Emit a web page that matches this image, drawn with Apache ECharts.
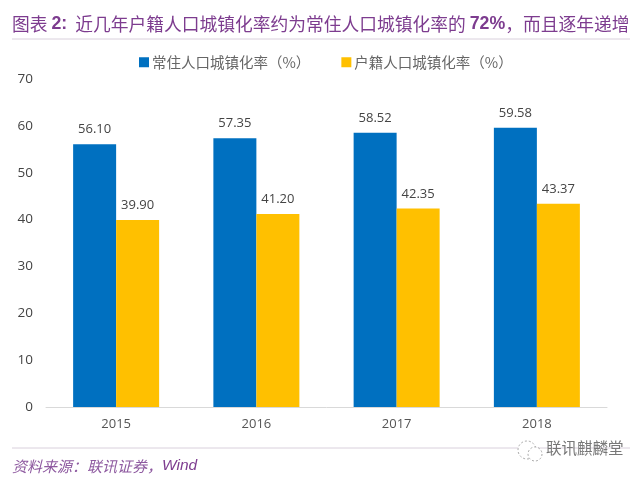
<!DOCTYPE html>
<html>
<head>
<meta charset="utf-8">
<style>
html,body{margin:0;padding:0;background:#fff;}
#chart{width:641px;height:477px;}
</style>
<script src="https://cdn.jsdelivr.net/npm/echarts@6/dist/echarts.min.js"></script>
</head>
<body>
<div id="chart"></div>
<script>
var years = ['2015','2016','2017','2018'];
var changzhu = [56.10,57.35,58.52,59.58];
var huji = [39.90,41.20,42.35,43.37];
var seriesNames = ['常住人口城镇化率（%）','户籍人口城镇化率（%）'];

var myChart = echarts.init(document.getElementById('chart'));
var labelStyle = {
	show:true,
	position:'top',
	distance:8,
	color:'#444',
	fontSize:13,
	fontFamily:'"Open Sans"',
	formatter:function(p){ return p.value.toFixed(2); }
};
var option = {
	animation:false,
	backgroundColor:'#fff',
	title:[
		{
			left:7,
			top:10,
			text:'{a|图表 }{b|2:}{a|  近几年户籍人口城镇化率约为常住人口城镇化率的 }{b|72%}{a|，而且逐年递增}',
			textStyle:{
				rich:{
					a:{fontSize:17.75,color:'#7d3c8f',fontFamily:'"Noto Sans CJK SC"',fontWeight:'normal'},
					b:{fontSize:17.75,color:'#7d3c8f',fontFamily:'"Liberation Sans"',fontWeight:'bold'}
				}
			}
		},
		{
			left:7,
			top:453,
			text:'{a|资料来源：联讯证券，}{b|Wind}',
			textStyle:{
				rich:{
					a:{fontSize:15,color:'#8e5aa0',fontFamily:'"Noto Sans CJK SC"',fontStyle:'italic',fontWeight:'normal'},
					b:{fontSize:15.5,color:'#7d3c8f',fontFamily:'"Liberation Sans"',fontStyle:'italic',fontWeight:'normal'}
				}
			}
		}
	],
	legend:{
		top:50,
		left:134,
		itemWidth:10,
		itemHeight:10,
		itemGap:31,
		icon:'rect',
		textStyle:{color:'#666',fontSize:14.5,fontFamily:'"Noto Sans CJK SC"',padding:[0,0,0,-2]},
		data:seriesNames
	},
	grid:{left:46,right:34,top:79,bottom:70},
	xAxis:{
		type:'category',
		data:years,
		axisLine:{lineStyle:{color:'#d9d9d9',width:1}},
		axisTick:{show:false},
		axisLabel:{color:'#555',fontSize:13,margin:11,fontFamily:'"Open Sans"'}
	},
	yAxis:{
		type:'value',
		min:0,
		max:70,
		interval:10,
		splitLine:{show:false},
		axisLine:{show:false},
		axisTick:{show:false},
		axisLabel:{color:'#444',fontSize:13.5,margin:13,fontFamily:'"Open Sans"'}
	},
	series:[
		{
			name:seriesNames[0],
			type:'bar',
			data:changzhu,
			barWidth:43,
			barGap:'0%',
			itemStyle:{color:'#0070c0'},
			label:labelStyle
		},
		{
			name:seriesNames[1],
			type:'bar',
			data:huji,
			barWidth:43,
			itemStyle:{color:'#ffc000'},
			label:labelStyle
		}
	],
	graphic:[
		{type:'line',silent:true,shape:{x1:12,y1:39,x2:630,y2:39},style:{stroke:'#d9d0dc',lineWidth:1}},
		{type:'line',silent:true,shape:{x1:12,y1:448,x2:630,y2:448},style:{stroke:'#d9d0dc',lineWidth:1}},
		{type:'circle',silent:true,shape:{cx:527,cy:450,r:9},style:{fill:'#fff',stroke:'#aaa',lineWidth:1,lineDash:[2,2]}},
		{type:'circle',silent:true,shape:{cx:535,cy:454,r:7},style:{fill:'#fff',stroke:'#aaa',lineWidth:1,lineDash:[2,2]}},
		{type:'text',silent:true,left:546,top:440,style:{text:'联讯麒麟堂',fill:'#777',fontSize:15.5,fontFamily:'"Noto Sans CJK SC"'}}
	]
};
myChart.setOption(option);
</script>
</body>
</html>
